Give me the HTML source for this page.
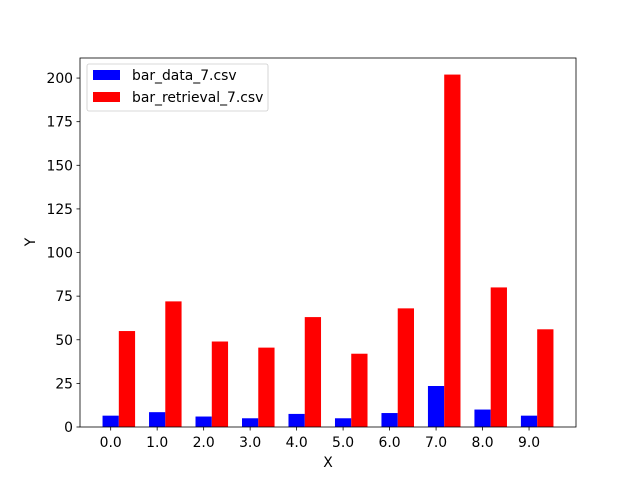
<!DOCTYPE html>
<html><head><meta charset="utf-8"><style>
body{margin:0;background:#fff;}
svg text{font-family:"DejaVu Sans","Liberation Sans",sans-serif;font-size:13.9px;fill:#000;}
</style></head><body>
<svg width="640" height="480">
<rect width="640" height="480" fill="#fff"/>
<g id="bars"></g>
<rect x="80" y="58" width="496" height="369" fill="none" stroke="#000" stroke-width="0.8"/>
<g id="axes"></g>
<text x="328" y="467" text-anchor="middle">X</text>
<text transform="translate(35,242) rotate(-90)" text-anchor="middle">Y</text>
<g>
<rect x="87" y="64" width="181" height="47" fill="#fff" stroke="#ccc" stroke-width="0.8" rx="2"/>
<g><rect x="93" y="70" width="27" height="10" fill="#0000ff"/><text x="132" y="80">bar_data_7.csv</text></g>
<g><rect x="93" y="92" width="27" height="10" fill="#ff0000"/><text x="132" y="102">bar_retrieval_7.csv</text></g>
</g>
</svg>
<script>
const categories=[0,1,2,3,4,5,6,7,8,9];
const dataValues=[6.5,8.5,6,5,7.5,5,8,23.5,10,6.5];
const retrievalValues=[55,72,49,45.5,63,42,68,202,80,56];
const yTicks=[0,25,50,75,100,125,150,175,200];
const NS="http://www.w3.org/2000/svg";
const x0=80,x1=576,y0=427,y1=58,xmin=-0.66,xmax=10.01,ymin=0,ymax=211.5;
const sx=v=>x0+(v-xmin)/(xmax-xmin)*(x1-x0);
const sy=v=>y0-(v-ymin)/(ymax-ymin)*(y0-y1);
const w=0.35;
const bars=document.getElementById('bars'),axes=document.getElementById('axes');
function mk(t,a){const e=document.createElementNS(NS,t);for(const k in a)e.setAttribute(k,a[k]);return e;}
categories.forEach((c,i)=>{
 let b=mk('rect',{x:sx(c-w/2),y:sy(dataValues[i]),width:sx(c+w/2)-sx(c-w/2),height:sy(0)-sy(dataValues[i]),fill:'#0000ff'});
 
 
 bars.appendChild(b);
 let r=mk('rect',{x:sx(c+w/2),y:sy(retrievalValues[i]),width:sx(c+3*w/2)-sx(c+w/2),height:sy(0)-sy(retrievalValues[i]),fill:'#ff0000'});
 
 
 bars.appendChild(r);
 const X=sx(c);
 axes.appendChild(mk('line',{x1:X,x2:X,y1:y0,y2:y0+3.5,stroke:'#000','stroke-width':0.8}));
 let t=mk('text',{x:X,y:y0+20,'text-anchor':'middle'});t.textContent=c.toFixed(1);
 
 
 axes.appendChild(t);
});
yTicks.forEach(v=>{
 const Y=sy(v);
 axes.appendChild(mk('line',{x1:x0-3.5,x2:x0,y1:Y,y2:Y,stroke:'#000','stroke-width':0.8}));
 let t=mk('text',{x:x0-7,y:Y+5,'text-anchor':'end'});t.textContent=v;
 
 
 axes.appendChild(t);
});
</script>
</body></html>
